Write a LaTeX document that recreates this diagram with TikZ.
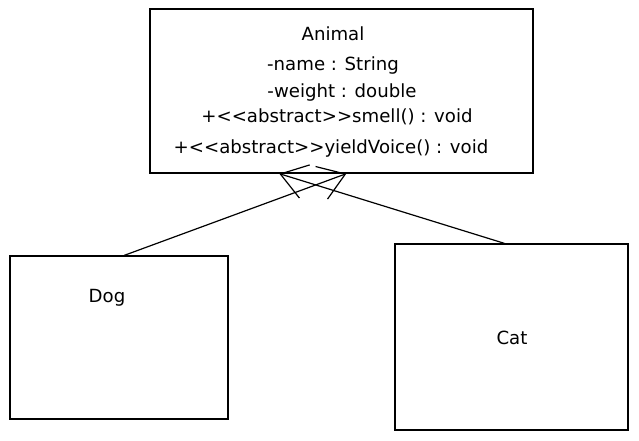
\documentclass[tikz,border=0pt]{standalone}
\usepackage{fontspec}
\setmainfont{DejaVu Sans}[Ligatures=TeXOff]
\usetikzlibrary{arrows.meta,calc}
\begin{document}
\begin{tikzpicture}[x=0.75pt,y=-0.75pt,
  box/.style={draw=black,line width=1pt,fill=white,inner sep=0pt},
  lbl/.style={anchor=base,inner sep=0pt,font=\fontsize{13.6pt}{16pt}\selectfont},
  inh/.style={draw=black,line width=0.9pt,-{Straight Barb[length=19pt,width=26pt,line width=0.9pt]}}]
\fill[white] (0,0) rectangle (639,440);
\useasboundingbox (0,0) rectangle (639,440);
% boxes
\node[box,minimum width=287.25pt,minimum height=123pt] (animal) at (341.5,91) {};
\node[box,minimum width=163.5pt,minimum height=122.25pt] (dog) at (119,337.5) {};
\node[box,minimum width=174.75pt,minimum height=139.5pt] (cat) at (511.5,337) {};
% texts
\node[lbl] (tAnimal) at (333,40) {Animal};
\node[lbl] (tName) at (333,70) {-name : String};
\node[lbl] (tWeight) at (342,97) {-weight : double};
\node[lbl] (tSmell) at (337,122) {+<<abstract>>smell() : void};
\node[lbl] (tYield) at (331,153) {+<<abstract>>yieldVoice() : void};
\node[lbl] (tDog) at (107,302) {Dog};
\node[lbl] (tCat) at (512,344) {Cat};
% connectors
\coordinate (dogStart) at ($(dog.north west)+(115,0)$);
\coordinate (dogTip) at ($(animal.south west)+(197,0)$);
\coordinate (catStart) at ($(cat.north west)+(110,0)$);
\coordinate (catTip) at ($(animal.south west)+(130,0)$);
\draw[inh] (dogStart) -- (dogTip);
\draw[inh] (catStart) -- (catTip);
\end{tikzpicture}
\end{document}
